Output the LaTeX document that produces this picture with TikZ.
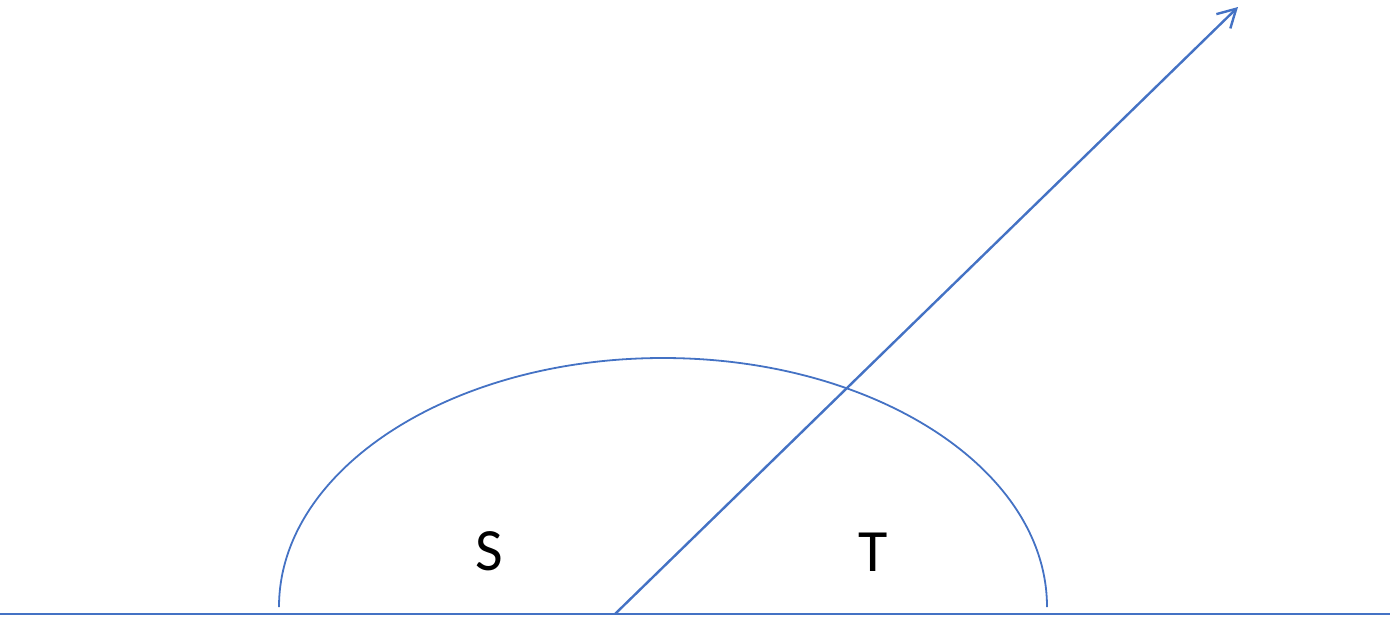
\documentclass[tikz,border=0pt]{standalone}
\usepackage{fontspec}
\setmainfont{Carlito}
\usetikzlibrary{arrows.meta}
\definecolor{officeblue}{RGB}{68,114,196}
\tikzset{
  blueline/.style={draw=officeblue, line width=1.2pt},
  lbl/.style={font=\fontsize{30}{36}\selectfont, inner sep=0pt, text=black}
}
\begin{document}
\begin{tikzpicture}[x=0.5pt,y=-0.5pt]
\useasboundingbox (0,0) rectangle (1390,616);
% ground line
\coordinate (gl) at (0,614);
\coordinate (gr) at (1390,614);
\draw[blueline, line width=1.4pt] (gl) -- (gr);
% half ellipse
\coordinate (al) at (279,607);
\draw[blueline, line width=0.9pt] (al) arc[start angle=180, end angle=0, x radius=192pt, y radius=124.5pt];
% arrow
\coordinate (o) at (615,614);
\coordinate (tip) at (1238,7);
\draw[blueline, -{Straight Barb[length=9pt,width=10pt]}] (o) -- (tip);
% labels
\node[lbl] (S) at (489,551) {S};
\node[lbl] (T) at (873,552) {T};
\end{tikzpicture}
\end{document}
